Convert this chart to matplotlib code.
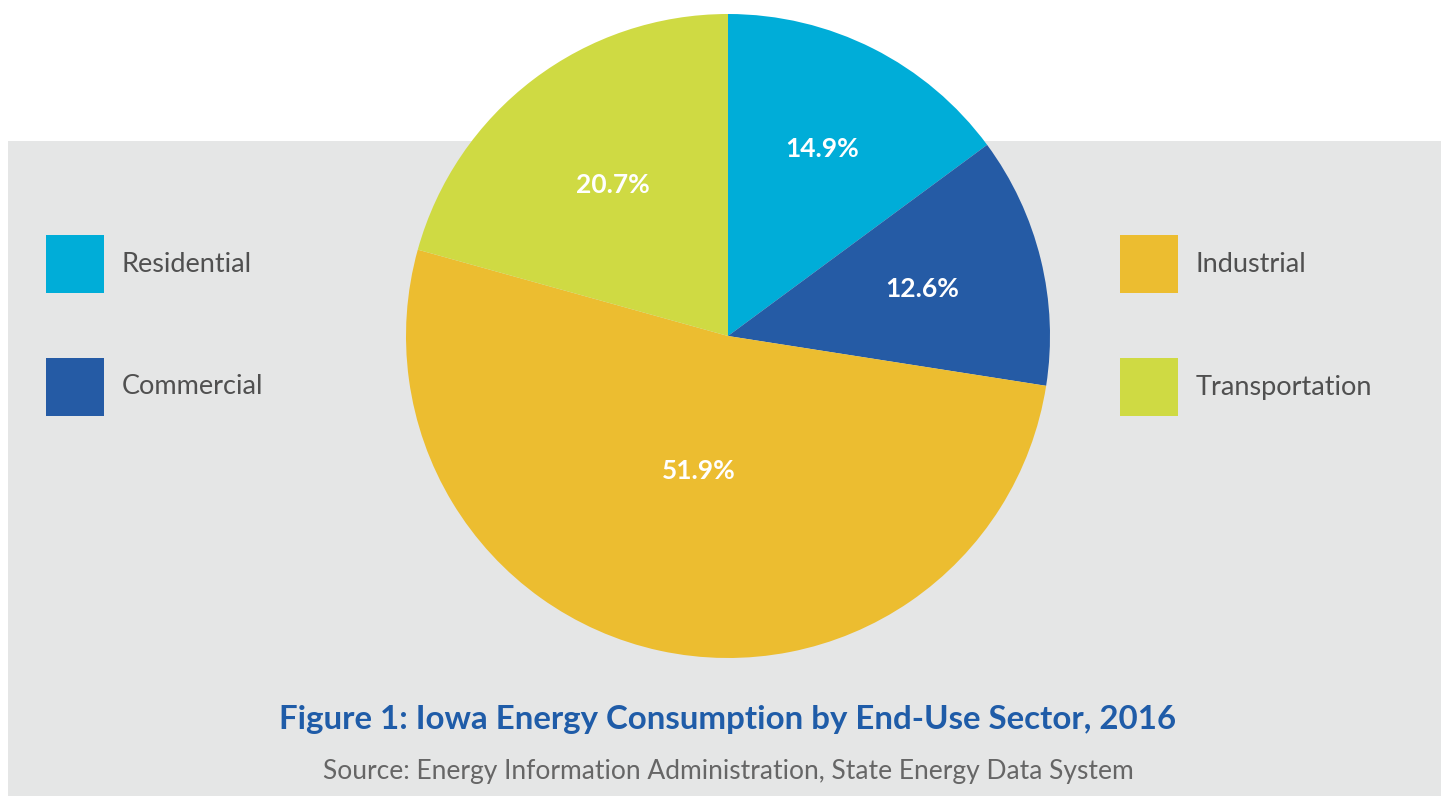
import numpy as np
import matplotlib.pyplot as plt
from matplotlib.patches import Rectangle

sectors = ["Residential", "Commercial", "Industrial", "Transportation"]
shares = [14.9, 12.6, 51.9, 20.7]
colors = ["#00ADD8", "#255BA5", "#ECBD30", "#CFDA43"]
label_dist = [0.65, 0.62, 0.43, 0.59]

title = "Figure 1: Iowa Energy Consumption by End-Use Sector, 2016"
source = "Source: Energy Information Administration, State Energy Data System"

W, H = 1441, 796
fig = plt.figure(figsize=(W / 100, H / 100), dpi=100)
ax = fig.add_axes([0, 0, 1, 1])

# grey panel behind the pie
ax.add_patch(Rectangle((8, 0), W - 8, H - 141, facecolor="#E5E6E6", edgecolor="none", zorder=0))

cx, cy, r = 728, H - 336, 322
wedges, _ = ax.pie(shares, colors=colors, startangle=90, counterclock=False,
                   center=(cx, cy), radius=r, frame=True,
                   wedgeprops=dict(linewidth=0))
for w in wedges:
    w.set_zorder(2)
ax.set_xlim(0, W)
ax.set_ylim(0, H)
ax.set_aspect("equal")
ax.axis("off")

for w, val, d in zip(wedges, shares, label_dist):
    mid = np.deg2rad((w.theta1 + w.theta2) / 2)
    ax.text(cx + d * r * np.cos(mid), cy + d * r * np.sin(mid), f"{val}%",
            ha="center", va="center", color="white", fontsize=19,
            fontweight="bold", family="Lato", zorder=3)

# legend: two columns of two
legend_pos = [(46, 235), (46, 358), (1120, 235), (1120, 358)]
for (lx, ly), name, c in zip(legend_pos, sectors, colors):
    ax.add_patch(Rectangle((lx, H - ly - 58), 58, 58, facecolor=c, edgecolor="none", zorder=2))
    ax.text(lx + 76, H - ly - 29, name, ha="left", va="center", fontsize=19.5,
            color="#505050", family="Lato", zorder=3)

ax.text(cx, H - 719, title, ha="center", va="center", fontsize=23.8,
        fontweight="bold", color="#1F5CA8", family="Lato", zorder=3)
ax.text(cx, H - 772, source, ha="center", va="center", fontsize=19,
        color="#666666", family="Lato", zorder=3)

fig.savefig("out.png", dpi=100)
